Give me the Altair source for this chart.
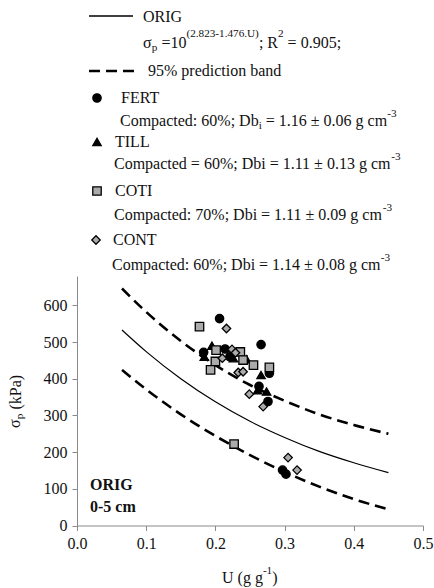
import altair as alt
import pandas as pd

# ---------------- data ----------------
u_curve = [0.065, 0.1, 0.15, 0.2, 0.25, 0.3, 0.35, 0.4, 0.45]
fit_orig = [533, 474, 400, 337, 284, 240, 202, 171, 144]
band_upper = [646, 582, 503, 437, 383, 340, 303, 274, 250]
band_lower = [424, 371, 303, 244, 192, 146, 106, 72, 44]

fert_u = [0.206, 0.183, 0.214, 0.266, 0.221, 0.278, 0.263, 0.276, 0.297, 0.302]
fert_sp = [564, 472, 481, 493, 460, 415, 379, 338, 151, 140]

till_u = [0.195, 0.184, 0.226, 0.245, 0.266, 0.274, 0.261]
till_sp = [490, 460, 456, 453, 410, 365, 369]

coti_u = [0.177, 0.201, 0.200, 0.193, 0.236, 0.240, 0.255, 0.278, 0.227]
coti_sp = [542, 478, 447, 424, 473, 451, 437, 431, 222]

cont_u = [0.216, 0.224, 0.229, 0.210, 0.233, 0.240, 0.249, 0.269, 0.305, 0.318]
cont_sp = [537, 480, 471, 456, 417, 419, 358, 324, 185, 151]

groups = ["FERT", "TILL", "COTI", "CONT"]
shapes = ["circle", "triangle-up", "square", "diamond"]
fills = ["black", "black", "#ababab", "#ababab"]
sizes = [70, 72, 50, 80]

x_ticks = [0.0, 0.1, 0.2, 0.3, 0.4, 0.5]
y_ticks = [0, 100, 200, 300, 400, 500, 600]
y_max = 680

# ---------------- layout ----------------
OX, OY = 77, 276
W_PLOT, H_PLOT = 346, 249.5
FONT = "Liberation Serif"

curves = pd.DataFrame({
    "U": u_curve * 3,
    "sp": fit_orig + band_upper + band_lower,
    "kind": ["fit"] * len(u_curve) + ["upper"] * len(u_curve) + ["lower"] * len(u_curve),
})

pts = pd.concat([
    pd.DataFrame({"U": fert_u, "sp": fert_sp, "group": "FERT"}),
    pd.DataFrame({"U": till_u, "sp": till_sp, "group": "TILL"}),
    pd.DataFrame({"U": coti_u, "sp": coti_sp, "group": "COTI"}),
    pd.DataFrame({"U": cont_u, "sp": cont_sp, "group": "CONT"}),
], ignore_index=True)

xs = alt.Scale(domain=[0, 0.5], nice=False, zero=False)
ys = alt.Scale(domain=[0, y_max], nice=False)
shape_s = alt.Scale(domain=groups, range=shapes)
fill_s = alt.Scale(domain=groups, range=fills)
size_s = alt.Scale(domain=groups, range=sizes)

fit_line = alt.Chart(curves).transform_filter(alt.datum.kind == "fit").mark_line(
    color="black", strokeWidth=1.2, interpolate="monotone"
).encode(
    x=alt.X("U:Q", scale=xs, axis=None),
    y=alt.Y("sp:Q", scale=ys, axis=None),
)

band_lines = alt.Chart(curves).transform_filter(alt.datum.kind != "fit").mark_line(
    color="black", strokeWidth=2.6, strokeDash=[11, 6], interpolate="monotone"
).encode(
    x=alt.X("U:Q", scale=xs, axis=None),
    y=alt.Y("sp:Q", scale=ys, axis=None),
    detail="kind:N",
)

points = alt.Chart(pts).mark_point(filled=True, stroke="black", strokeWidth=1.3, opacity=1).encode(
    x=alt.X("U:Q", scale=xs, axis=alt.Axis(
        values=x_ticks, format=".1f", title=None, grid=False,
        labelFont=FONT, labelFontSize=16, labelColor="#111",
        domainColor="#8a8a8a", tickColor="#8a8a8a", tickSize=5, labelPadding=5,
        labelFlush=False)),
    y=alt.Y("sp:Q", scale=ys, axis=alt.Axis(
        values=y_ticks, title=None, grid=False,
        labelFont=FONT, labelFontSize=16, labelColor="#111",
        domainColor="#8a8a8a", tickColor="#8a8a8a", tickSize=5, labelPadding=5)),
    shape=alt.Shape("group:N", scale=shape_s, legend=None),
    fill=alt.Fill("group:N", scale=fill_s, legend=None),
    size=alt.Size("group:N", scale=size_s, legend=None),
    order=alt.Order("idx:Q"),
).transform_calculate(idx="indexof(['FERT','TILL','COTI','CONT'], datum.group)")

# ---------------- legend (drawn) ----------------
leg_solid = alt.Chart(pd.DataFrame({"a": [0]})).mark_rule(color="black", strokeWidth=1.3).encode(
    x=alt.value(89 - OX), x2=alt.value(133 - OX), y=alt.value(16 - OY))
leg_dash = alt.Chart(pd.DataFrame({"a": [0]})).mark_rule(
    color="black", strokeWidth=2.6, strokeDash=[11, 6]).encode(
    x=alt.value(89 - OX), x2=alt.value(134 - OX), y=alt.value(71 - OY))

leg_pts = pd.DataFrame({
    "px": [97 - OX, 97 - OX, 97 - OX, 96 - OX],
    "py": [98 - OY, 142 - OY, 191 - OY, 240 - OY],
    "group": groups,
})
leg_marks = alt.Chart(leg_pts).mark_point(filled=True, stroke="black", strokeWidth=1.3, opacity=1).encode(
    x=alt.X("px:Q", scale=None, axis=None),
    y=alt.Y("py:Q", scale=None, axis=None),
    shape=alt.Shape("group:N", scale=shape_s, legend=None),
    fill=alt.Fill("group:N", scale=fill_s, legend=None),
    size=alt.Size("group:N", scale=size_s, legend=None),
)

# character widths (Times / Liberation Serif, em units)
CW = {" ": .25, "%": .833, "(": .333, ")": .333, "-": .333, ".": .25, ":": .278, ";": .278,
      "=": .564, "±": .564, "σ": .55,
      "A": .722, "C": .667, "D": .722, "E": .611, "F": .556, "G": .722, "I": .333, "L": .611,
      "N": .722, "O": .722, "P": .556, "R": .667, "T": .611, "U": .722,
      "a": .444, "b": .5, "c": .444, "d": .5, "e": .444, "g": .5, "i": .278, "k": .5, "m": .778,
      "n": .5, "o": .5, "p": .5, "r": .333, "t": .278}


def tw(s, fs):
    return sum(CW.get(ch, 0.5) for ch in s) * fs


rows = []


def rich(x, y, parts, base=16):
    cx = x
    for s, dy, sc in parts:
        fs = base * sc
        lead = len(s) - len(s.lstrip(" "))
        cx += lead * CW[" "] * fs
        s2 = s.lstrip(" ")
        rows.append(dict(px=cx - OX, py=y + dy - OY, txt=s2, fs=fs))
        cx += tw(s2, fs)


SUB, SUP = 0.7, 0.7
rich(143, 17, [("ORIG", 0, 1)])
rich(143, 43, [("σ", 0, 1), ("p", 5, SUB), (" =10", 0, 1), ("(2.823-1.476.U)", -9, SUP),
               ("; R", 0, 1), ("2", -9, SUP), (" = 0.905;", 0, 1)])
rich(148, 71, [("95% prediction band", 0, 1)])
rich(121, 98, [("FERT", 0, 1)])
rich(120, 121, [("Compacted: 60%; Db", 0, 1), ("i", 5, SUB), (" = 1.16 ± 0.06 g cm", 0, 1), ("-3", -7, SUP)])
rich(115, 142, [("TILL", 0, 1)])
rich(114, 164, [("Compacted = 60%; Dbi = 1.11 ± 0.13 g cm", 0, 1), ("-3", -7, SUP)])
rich(115, 191, [("COTI", 0, 1)])
rich(114, 215, [("Compacted: 70%; Dbi = 1.11 ± 0.09 g cm", 0, 1), ("-3", -7, SUP)])
rich(113, 240, [("CONT", 0, 1)])
rich(112, 265, [("Compacted: 60%; Dbi = 1.14 ± 0.08 g cm", 0, 1), ("-3", -7, SUP)])
# x-axis title
rich(222, 578, [("U (g g", 0, 1), ("-1", -7, SUP), (")", 0, 1)])

text_df = pd.DataFrame(rows)
texts = alt.Chart(text_df).mark_text(font=FONT, align="left", baseline="middle", color="#111").encode(
    x=alt.X("px:Q", scale=None, axis=None),
    y=alt.Y("py:Q", scale=None, axis=None),
    text="txt:N",
    size=alt.Size("fs:Q", scale=None, legend=None),
)

bold_df = pd.DataFrame({"px": [90 - OX, 90 - OX], "py": [485 - OY, 507 - OY], "txt": ["ORIG", "0-5 cm"]})
bold = alt.Chart(bold_df).mark_text(font=FONT, fontWeight="bold", fontSize=16, align="left",
                                    baseline="middle", color="#111").encode(
    x=alt.X("px:Q", scale=None, axis=None),
    y=alt.Y("py:Q", scale=None, axis=None),
    text="txt:N",
)

# rotated y title: sigma_p (kPa)
y0 = 428
rot_rows = [
    dict(px=15 - OX, py=y0 - OY, txt="σ", fs=16),
    dict(px=20 - OX, py=y0 - tw("σ", 16) - OY, txt="p", fs=11.2),
    dict(px=16 - OX, py=y0 - tw("σ", 16) - tw("p", 11.2) - 4 - OY, txt="(kPa)", fs=16),
]
rot = alt.Chart(pd.DataFrame(rot_rows)).mark_text(font=FONT, align="left", baseline="middle",
                                                 angle=270, color="#111").encode(
    x=alt.X("px:Q", scale=None, axis=None),
    y=alt.Y("py:Q", scale=None, axis=None),
    text="txt:N",
    size=alt.Size("fs:Q", scale=None, legend=None),
)

chart = alt.layer(
    fit_line, band_lines, points, leg_solid, leg_dash, leg_marks, texts, bold, rot
).resolve_scale(
    x="independent", y="independent"
).properties(
    width=W_PLOT, height=H_PLOT,
    autosize=alt.AutoSizeParams(type="none"),
    padding={"left": OX, "top": OY, "right": 434 - OX - W_PLOT, "bottom": 588 - OY - H_PLOT},
    background="white",
).configure_view(stroke=None)

chart.save("out.html", embed_options={"renderer": "svg", "actions": False})
